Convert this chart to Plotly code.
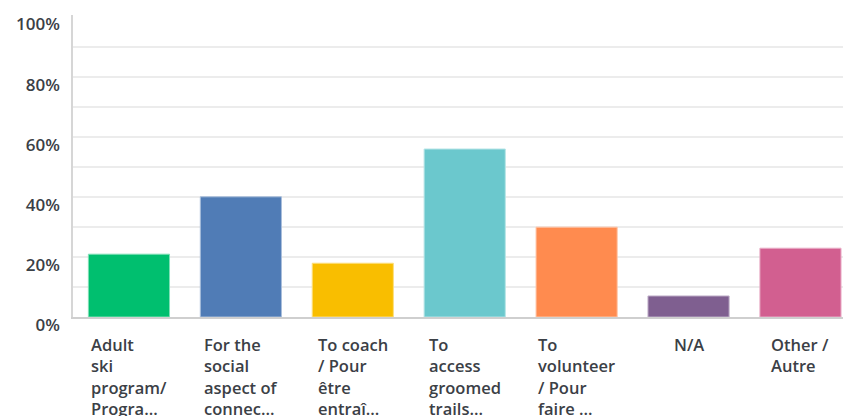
import plotly.graph_objects as go

categories = [
    "Adult<br>ski<br>program/<br>Progra...",
    "For the<br>social<br>aspect of<br>connec...",
    "To coach<br>/ Pour<br>être<br>entraî...",
    "To<br>access<br>groomed<br>trails...",
    "To<br>volunteer<br>/ Pour<br>faire ...",
    "N/A",
    "Other /<br>Autre",
]
values = [20.9, 40.0, 17.9, 55.9, 29.9, 7.0, 22.9]
colors = ["#00BF6F", "#507CB6", "#F9BE00", "#6BC8CD", "#FF8B4F", "#7F5F90", "#D25F90"]
edge_colors = ["#7fe0b7", "#a8bedb", "#fcdf80", "#b5e4e6", "#ffc5a7", "#bfafc8", "#e9afc8"]
y_tick_vals = [0, 20, 40, 60, 80, 100]
y_tick_text = ["0%", "20%", "40%", "60%", "80%", "100%"]
y_grid_vals = [10, 20, 30, 40, 50, 60, 70, 80, 90]

text_color = "#3b4046"
font_family = "Open Sans"

x_idx = list(range(len(categories)))

fig = go.Figure()
fig.add_trace(go.Bar(
    x=x_idx,
    y=values,
    marker=dict(color=colors, line=dict(color=edge_colors, width=1)),
    width=0.725,
    hoverinfo="skip",
))

for i, label in enumerate(categories):
    fig.add_annotation(
        x=i, xref="x", xanchor="center",
        y=0, yref="paper", yanchor="top", yshift=-14,
        text=label, showarrow=False, align="left",
        font=dict(family=font_family, size=16.5, color=text_color, weight=600),
    )

fig.update_layout(
    width=843, height=416,
    margin=dict(l=73, r=0, t=15, b=99, autoexpand=False),
    plot_bgcolor="white", paper_bgcolor="white",
    showlegend=False,
    bargap=0.275,
    xaxis=dict(
        range=[-0.5, 6.38],
        automargin=False,
        showticklabels=False, showgrid=False, zeroline=False,
        showline=True, linecolor="#cfcfcf", linewidth=1.5,
        ticks="",
    ),
    yaxis=dict(
        range=[0, 100.5],
        automargin=False,
        tickvals=y_tick_vals, ticktext=y_tick_text,
        showgrid=False, zeroline=False,
        showline=True, linecolor="#d6d6d6", linewidth=1.5,
        ticks="",
        ticklabelshift=8,
        ticklabelstandoff=8,
        ticklabeloverflow="allow",
        tickfont=dict(family=font_family, size=17, color=text_color, weight=600),
        minor=dict(tickvals=y_grid_vals, showgrid=True, gridcolor="#ececec", gridwidth=1.5, ticks=""),
    ),
)

fig.write_html(
    "out.html",
    config={"displayModeBar": False},
    post_script="document.body.style.margin='0';document.body.style.overflow='hidden';",
)
